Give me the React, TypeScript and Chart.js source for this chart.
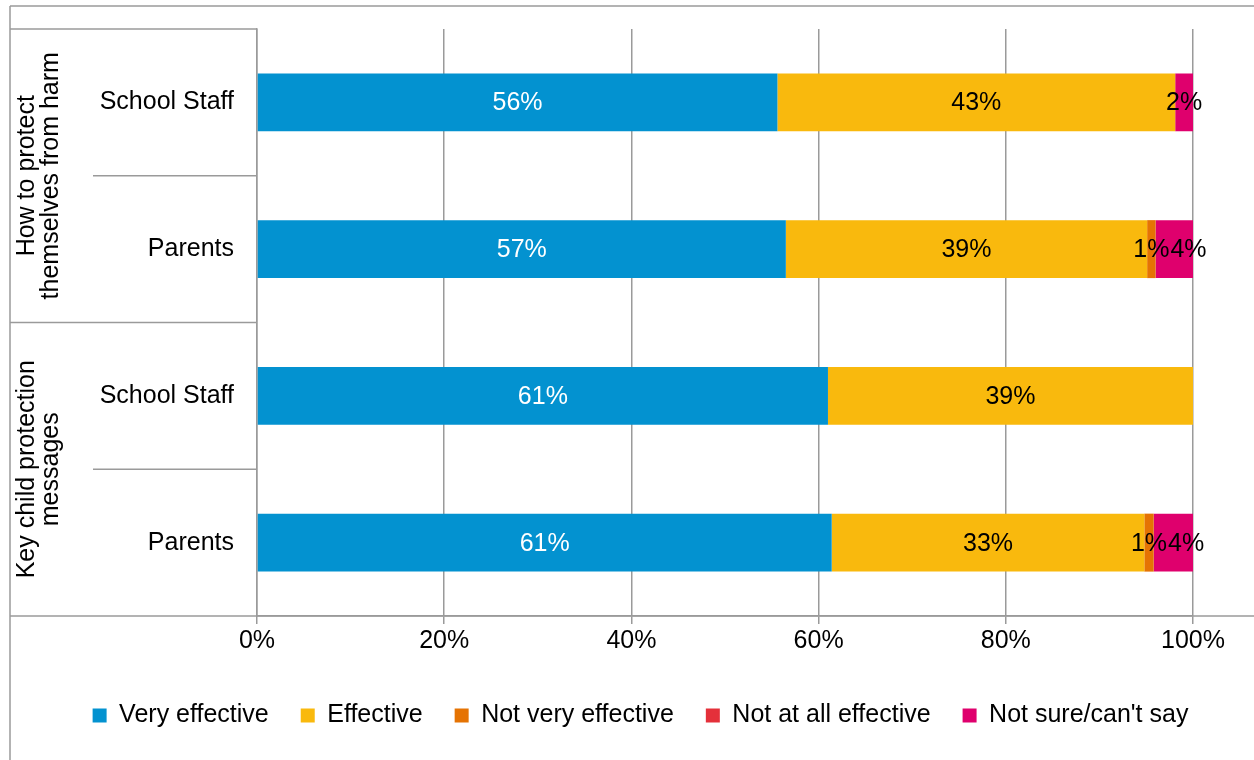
import React, { useEffect, useRef } from "react";
import { Chart, registerables } from "chart.js";

Chart.register(...registerables);

const categories = ["School Staff", "Parents", "School Staff", "Parents"];
const groupLabels = [
  ["How to protect", "themselves from harm"],
  ["Key child protection", "messages"],
];
const seriesNames = [
  "Very effective",
  "Effective",
  "Not very effective",
  "Not at all effective",
  "Not sure/can't say",
];
const veryEffective = [55.6, 56.5, 61, 61.4];
const effective = [42.5, 38.6, 39, 33.4];
const notVeryEffective = [0, 0.9, 0, 1.0];
const notAtAllEffective = [0, 0, 0, 0];
const notSure = [1.9, 4.0, 0, 4.2];
const xTicks = [0, 20, 40, 60, 80, 100];

const colors = ["#0392d0", "#f9b90d", "#e57303", "#e4303a", "#df006d"];
const FONT = "'Liberation Sans', Arial, sans-serif";
const FS = 25;
const LINE = "#9a9a9a";

const labelsPlugin = {
  id: "segLabels",
  afterDatasetsDraw(chart: any) {
    const ctx = chart.ctx;
    ctx.save();
    ctx.font = `${FS}px ${FONT}`;
    ctx.textAlign = "center";
    ctx.textBaseline = "middle";
    const nCat = chart.data.labels.length;
    for (let i = 0; i < nCat; i++) {
      let prevRight = -Infinity;
      chart.data.datasets.forEach((ds: any, di: number) => {
        const v = ds.data[i];
        if (!v) return;
        const el = chart.getDatasetMeta(di).data[i];
        const text = Math.round(v) + "%";
        const w = ctx.measureText(text).width;
        let x = (el.x + el.base) / 2;
        if (x - w / 2 < prevRight + 1) x = prevRight + 1 + w / 2;
        prevRight = x + w / 2;
        ctx.fillStyle = di === 0 ? "#ffffff" : "#000000";
        ctx.fillText(text, x, el.y + 1);
      });
    }
    ctx.restore();
  },
};

const legendShift = {
  id: "legendShift",
  afterLayout(chart: any) {
    const lg = chart.legend;
    if (lg) {
      lg.left += 39;
      lg.right += 39;
    }
  },
};

const framePlugin = {
  id: "frame",
  afterDraw(chart: any) {
    const ctx = chart.ctx;
    const y = chart.scales.y;
    const area = chart.chartArea;
    const W = chart.width;
    const H = chart.height;
    const left = 10;
    const p = (i: number) => y.getPixelForValue(i);
    ctx.save();
    ctx.strokeStyle = LINE;
    ctx.lineWidth = 1.5;
    const line = (x1: number, y1: number, x2: number, y2: number) => {
      ctx.beginPath();
      ctx.moveTo(x1, y1);
      ctx.lineTo(x2, y2);
      ctx.stroke();
    };
    line(left, 6, W, 6);
    line(left, 6, left, H);
    line(left, area.top, area.left, area.top);
    line(left, area.bottom, W, area.bottom);
    const gDiv = (p(1) + p(2)) / 2;
    line(left, gDiv, area.left, gDiv);
    const s1 = (p(0) + p(1)) / 2;
    const s2 = (p(2) + p(3)) / 2;
    line(93, s1, area.left, s1);
    line(93, s2, area.left, s2);

    ctx.fillStyle = "#000";
    ctx.font = `${FS}px ${FONT}`;
    ctx.textAlign = "center";
    ctx.textBaseline = "middle";
    const centers = [(area.top + gDiv) / 2, (gDiv + area.bottom) / 2];
    groupLabels.forEach((lines, gi) => {
      ctx.save();
      ctx.translate(39, centers[gi]);
      ctx.rotate(-Math.PI / 2);
      lines.forEach((t, li) => {
        ctx.fillText(t, 0, (li - (lines.length - 1) / 2) * 24);
      });
      ctx.restore();
    });
    ctx.restore();
  },
};

export default function App() {
  const ref = useRef<HTMLCanvasElement | null>(null);
  useEffect(() => {
    document.body.style.margin = "0";
    const canvas = ref.current!;
    const series = [veryEffective, effective, notVeryEffective, notAtAllEffective, notSure];
    const chart = new Chart(canvas, {
      type: "bar",
      data: {
        labels: categories,
        datasets: series.map((d, i) => ({
          label: seriesNames[i],
          data: d,
          backgroundColor: colors[i],
          borderWidth: 0,
          categoryPercentage: 1,
          barPercentage: 0.395,
        })),
      },
      options: {
        indexAxis: "y",
        responsive: false,
        animation: false,
        devicePixelRatio: 1,
        layout: { padding: { left: 10, top: 29, right: 61, bottom: 22 } },
        font: { family: FONT, size: FS },
        scales: {
          x: {
            stacked: true,
            min: 0,
            max: 100,
            afterBuildTicks: (s: any) => {
              s.ticks = xTicks.map((v) => ({ value: v }));
            },
            afterFit: (s: any) => {
              s.height = 55;
            },
            ticks: {
              callback: (v: any) => v + "%",
              color: "#000",
              font: { family: FONT, size: FS },
              padding: 2,
              maxRotation: 0,
            },
            grid: { color: LINE, lineWidth: 1.5, tickLength: 8, drawTicks: true },
            border: { color: LINE, width: 1.5 },
          },
          y: {
            stacked: true,
            afterFit: (s: any) => {
              s.width = 247;
              s.paddingTop = 0;
              s.paddingBottom = 0;
            },
            ticks: {
              color: "#000",
              font: { family: FONT, size: FS },
              padding: 23,
            },
            grid: { display: false, drawTicks: false },
            border: { color: LINE, width: 1.5 },
          },
        },
        plugins: {
          tooltip: { enabled: false },
          legend: {
            position: "bottom",
            labels: {
              boxWidth: 14,
              boxHeight: 14,
              padding: 32,
              color: "#000",
              font: { family: FONT, size: FS },
            },
          },
        },
      },
      plugins: [labelsPlugin, legendShift, framePlugin],
    } as any);
    return () => chart.destroy();
  }, []);
  return (
    <div style={{ position: "absolute", left: 0, top: 0 }}>
      <canvas ref={ref} width={1254} height={760} style={{ width: 1254, height: 760 }} />
    </div>
  );
}
